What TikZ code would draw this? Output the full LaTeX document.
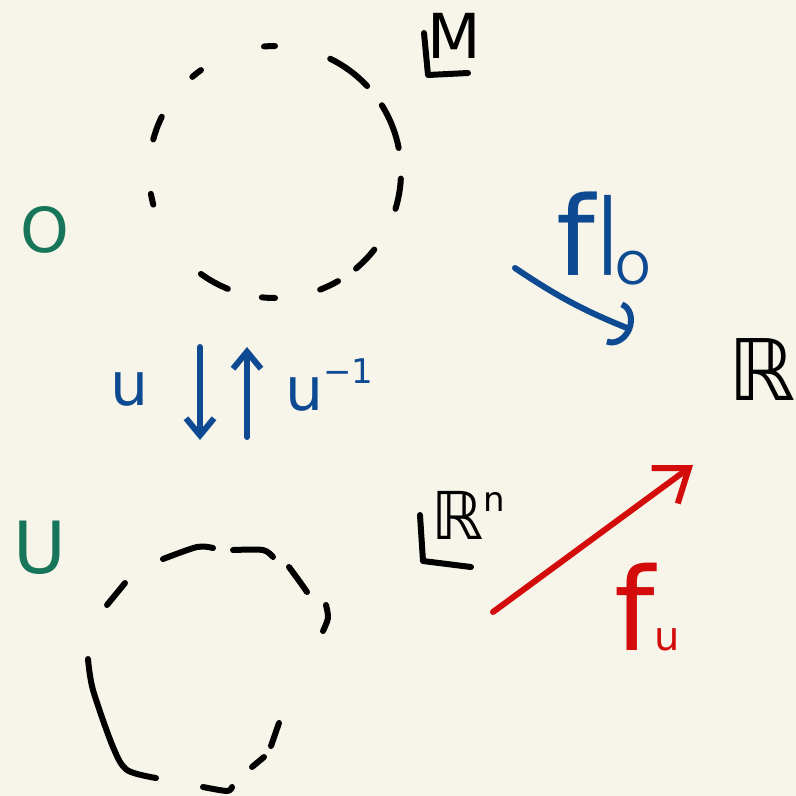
\documentclass[tikz,border=0pt]{standalone}
\usepackage{fontspec}
\setmainfont{DejaVu Sans}
\usetikzlibrary{arrows.meta, positioning}
\definecolor{paper}{HTML}{F7F5EA}
\definecolor{inkblue}{HTML}{0E4A92}
\definecolor{inkgreen}{HTML}{17755A}
\definecolor{inkred}{HTML}{D30B0B}
\newcommand{\fs}[1]{\fontsize{#1}{#1}\selectfont}
\tikzset{
  pen/.style={line width=6pt,line cap=round,line join=round,draw=#1},
  pen/.default=black,
  barb/.style={pen=#1,-{Straight Barb[length=17pt,width=28pt]}},
  bigbarb/.style={pen=#1,-{Straight Barb[length=30pt,width=44pt]}},
  hook/.style={pen=#1,-{Arc Barb[length=19pt,width=46pt]}},
  sym/.style 2 args={inner sep=0pt,text=#1,font=\fs{#2}},
}
\begin{document}
\begin{tikzpicture}[x=1pt,y=-1pt]
  \fill[paper] (0,0) rectangle (796,796);
  % open set O in M
  \foreach \s/\e in {229/234,265/270,296/317,328/349,3/17,38/50,60/69,90/96,112/126,165/170,195/206}
    \draw[pen] (275,172) ++(\s:126) arc[start angle=\s,end angle=\e,radius=126];
  \node[sym={inkgreen}{62}] (O) at (45,230) {O};
  \node[sym={black}{62}] (M) at (454,36) {M};
  \draw[pen] (424,33) -- (428,75) -- (468,73);
  % image U in R^n
  \draw[pen] (107,605) -- (125,583);
  \draw[pen] plot[smooth] coordinates {(163,559) (197,547) (213,548)};
  \draw[pen] plot[smooth] coordinates {(233,550) (263,550) (273,557)};
  \draw[pen] plot[smooth] coordinates {(289,567) (300,582) (307,592)};
  \draw[pen] plot[smooth] coordinates {(326,605) (328,618) (323,631)};
  \draw[pen] (279,723) -- (271,746);
  \draw[pen] (264,757) -- (252,767);
  \draw[pen] plot[smooth] coordinates {(203,787) (227,791) (232,787)};
  \draw[pen] plot[smooth] coordinates {(88,659) (93,690) (113,747) (127,770) (156,778)};
  \node[sym={inkgreen}{72}] (U) at (40,548) {U};
  \node[sym={black}{66}] (Rn) at (468,515) {ℝ\raisebox{0.42em}{\fs{34}n}};
  \draw[pen] (420,515) -- (423,561) -- (471,567);
  % chart maps
  \coordinate (uA) at (200,347);
  \coordinate (uB) at (200,440);
  \coordinate (vA) at (247,437);
  \coordinate (vB) at (247,347);
  \draw[barb=inkblue] (uA) -- (uB);
  \draw[barb=inkblue] (vA) -- (vB);
  \node[sym={inkblue}{60}] (u) at (130,389) {u};
  \node[sym={inkblue}{60},anchor=base west] (uinv) at (285,410) {u\raisebox{0.45em}{\fs{34}−1}};
  % functions to R
  \node[sym={black}{85}] (R) at (762,370) {ℝ};
  \coordinate (fA) at (515,268);
  \coordinate (fB) at (632,330);
  \draw[hook=inkblue] (fA) to[bend right=6] (fB);
  \node[sym={inkblue}{110},anchor=base west] (fO) at (556,275)
    {f{\fs{80}\raisebox{19pt}{|}}\kern-6pt{\fs{45}\raisebox{-9pt}{O}}};
  \coordinate (gA) at (493,612);
  \coordinate (gB) at (693,465);
  \draw[bigbarb=inkred] (gA) -- (gB);
  \node[sym={inkred}{115},anchor=base west] (fu) at (614,650) {f{\fs{40}u}};
\end{tikzpicture}
\end{document}
